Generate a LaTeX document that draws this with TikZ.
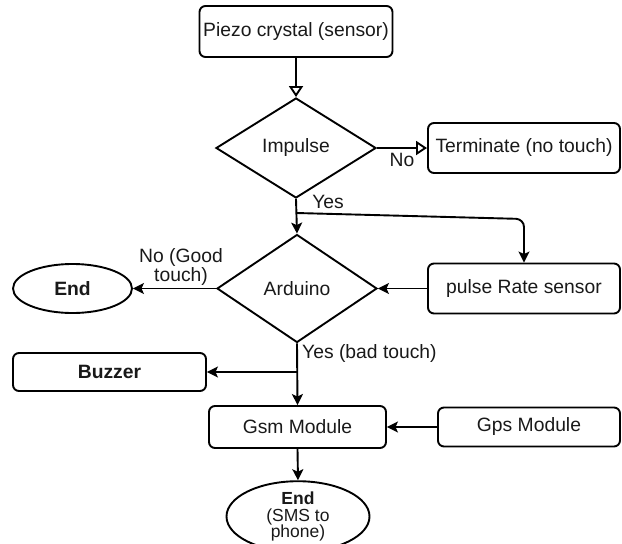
\documentclass[tikz,border=0pt]{standalone}
\usepackage{fontspec}
\setmainfont{Liberation Sans}
\usetikzlibrary{shapes.geometric,arrows.meta}
\begin{document}
\begin{tikzpicture}[x=1pt,y=-1pt,
  every node/.style={font=\fontsize{19.3}{17.5}\selectfont, text=black!90},
  box/.style={draw, rounded corners=6pt, line width=1.9pt, inner sep=0pt},
  dia/.style={draw, diamond, line width=1.9pt, inner sep=0pt},
  term/.style={draw, ellipse, line width=1.9pt, inner sep=0pt},
  conn/.style={line width=1.9pt, -{Stealth[length=11pt,width=11pt,inset=2.5pt]}},
  oconn/.style={line width=1.9pt, -{Triangle[open,length=11pt,width=14pt]}},
  lbl/.style={inner sep=0pt}
]
\useasboundingbox (0,0) rectangle (622,544);
\node[box, minimum width=193pt, minimum height=51pt] (piezo) at (296,31.5) {Piezo crystal (sensor)};
\node[dia, minimum width=160pt, minimum height=100pt] (imp) at (296,148) {Impulse};
\node[box, minimum width=192pt, minimum height=50pt] (term) at (524,148) {Terminate (no touch)};
\node[dia, minimum width=160pt, minimum height=108pt] (ard) at (297,288.5) {Arduino};
\node[box, minimum width=192pt, minimum height=50pt] (pulse) at (524,288.5) {pulse Rate sensor};
\node[term, minimum width=119pt, minimum height=49pt] (end1) at (72.5,288.5) {\bfseries End};
\node[box, minimum width=193pt, minimum height=38pt] (buzz) at (109.5,372) {\bfseries Buzzer};
\node[box, minimum width=177pt, minimum height=42pt] (gsm) at (297.5,427) {Gsm Module};
\node[box, minimum width=182pt, minimum height=39pt] (gps) at (529,427) {Gps Module};
\node[term, minimum width=143pt, minimum height=60pt, align=center,
      font=\fontsize{17.5}{16.8}\selectfont] (end2) at (298,516.5) {\bfseries End\\(SMS to\\phone)};
% labels
\node[lbl] (no1) at (402,160) {No};
\node[lbl] (yes1) at (328,202) {Yes};
\node[lbl, align=center] (no2) at (181,267) {No (Good\\touch)};
\node[lbl, anchor=west] (yes2) at (302,354) {Yes (bad touch)};
% connectors
\coordinate (yb) at (296.5,213);
\coordinate (yc) at (524,219);
\coordinate (bb) at (297.5,372);
\draw[oconn] (piezo.south) -- (imp.north);
\draw[oconn] (imp.east) -- (term.west);
\draw[conn] (imp.south) -- (ard.north);
\draw[conn, rounded corners=8pt] (yb) -- (yc) -- (pulse.north);
\draw[conn] (pulse.west) -- (ard.east);
\draw[conn] (ard.west) -- (end1.east);
\draw[conn] (ard.south) -- (gsm.north);
\draw[conn] (bb) -- (buzz.east);
\draw[conn] (gps.west) -- (gsm.east);
\draw[conn] (gsm.south) -- (end2.north);
\end{tikzpicture}
\end{document}
